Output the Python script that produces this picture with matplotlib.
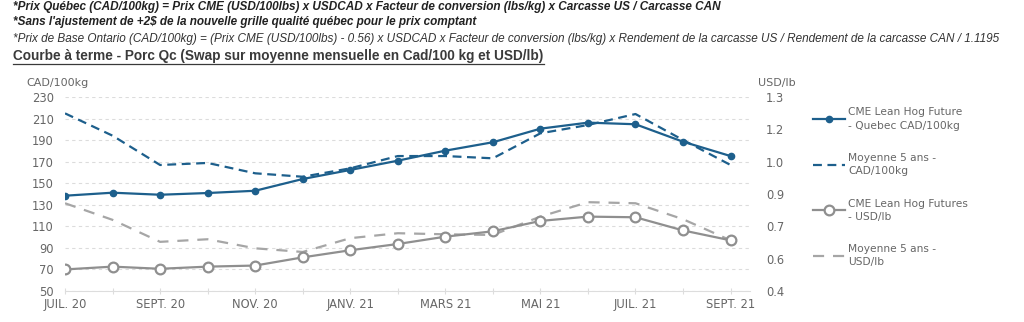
import numpy as np
import matplotlib
matplotlib.use("Agg")
import matplotlib.pyplot as plt
from matplotlib.lines import Line2D

# donnees
mois = ["JUIL. 20", "AOUT 20", "SEPT. 20", "OCT. 20", "NOV. 20", "DÉC. 20", "JANV. 21",
        "FÉVR. 21", "MARS 21", "AVR. 21", "MAI 21", "JUIN 21", "JUIL. 21", "AOÛT 21", "SEPT. 21"]
cme_qc_cad = [138.4, 141.2, 139.3, 140.9, 143.0, 153.9, 162.3, 170.9, 180.2, 188.0,
              200.6, 206.2, 204.7, 188.5, 175.2]
moy5_cad = [214.8, 194.1, 166.9, 168.8, 159.2, 156.0, 163.8, 175.2, 175.2, 173.1,
            196.3, 204.0, 214.2, 190.1, 166.9]
cme_usd = [0.500, 0.513, 0.503, 0.513, 0.518, 0.556, 0.589, 0.618, 0.652, 0.677,
           0.725, 0.745, 0.742, 0.681, 0.635]
moy5_usd = [0.807, 0.730, 0.628, 0.640, 0.598, 0.581, 0.645, 0.668, 0.663, 0.660,
            0.745, 0.812, 0.807, 0.733, 0.635]

ticks_gauche = [50, 70, 90, 110, 130, 150, 170, 190, 210, 230]
ticks_droite = [0.4, 0.55, 0.7, 0.85, 1.0, 1.15, 1.3]
labels_droite = ["0.4", "0.6", "0.7", "0.9", "1.0", "1.2", "1.3"]

bleu = "#1d5f8c"
gris = "#8f8f8f"
txt = "#666666"

fig = plt.figure(figsize=(10.24, 3.22), dpi=100)
ax = fig.add_axes([0.0635, 0.0963, 0.6685, 0.6025])
ax2 = ax.twinx()

x = np.arange(len(mois))

l1, = ax.plot(x, cme_qc_cad, color=bleu, lw=1.6, marker="o", ms=4.5, zorder=5)
l2, = ax.plot(x, moy5_cad, color=bleu, lw=1.6, ls=(0, (4, 2.5)), zorder=4)
l3, = ax2.plot(x, cme_usd, color=gris, lw=1.6, marker="o", ms=7, mfc="white",
               mec=gris, mew=1.6, zorder=5)
l4, = ax2.plot(x, moy5_usd, color="#a6a6a6", lw=1.6, ls=(0, (5, 4)), zorder=4)

ax.set_xlim(0, 14.4)
ax.set_ylim(50, 230)
ax2.set_ylim(0.4, 1.3)
ax.set_yticks(ticks_gauche)
ax2.set_yticks(ticks_droite)
ax2.set_yticklabels(labels_droite)
ax.set_xticks(x)
ax.set_xticklabels([m if i % 2 == 0 else "" for i, m in enumerate(mois)])

ax.grid(axis="y", color="#dcdcdc", ls=(0, (3, 3)), lw=0.8)
for a in (ax, ax2):
    for s in ("top", "left", "right"):
        a.spines[s].set_visible(False)
    a.spines["bottom"].set_color("#dddddd")
ax2.spines["bottom"].set_visible(False)

ax.tick_params(axis="y", length=0, labelsize=8.3, labelcolor=txt, pad=8)
ax2.tick_params(axis="y", length=0, labelsize=8.3, labelcolor=txt, pad=12)
ax.tick_params(axis="x", length=4, direction="inout", color="#dddddd",
               labelsize=8.3, labelcolor=txt, pad=3)

fig.text(0.026, 0.742, "CAD/100kg", fontsize=8, color=txt, va="center")
fig.text(0.740, 0.742, "USD/lb", fontsize=8, color=txt, va="center")

leg = fig.legend([l1, l2, l3, l4],
                 ["CME Lean Hog Future\n- Quebec CAD/100kg", "Moyenne 5 ans -\nCAD/100kg",
                  "CME Lean Hog Futures\n- USD/lb", "Moyenne 5 ans -\nUSD/lb"],
                 loc="upper left", bbox_to_anchor=(0.790, 0.68), frameon=False,
                 fontsize=7.7, labelcolor=txt, handlelength=3.0, handletextpad=0.25,
                 labelspacing=2.1, borderaxespad=0)
for t in leg.get_texts():
    t.set_linespacing(1.4)

# textes d'en-tete
fig.text(0.013, 0.978, "*Prix Québec (CAD/100kg) = Prix CME (USD/100lbs) x USDCAD x Facteur de conversion (lbs/kg) x Carcasse US / Carcasse CAN",
         fontsize=8.5, family="Liberation Sans", weight="bold", style="italic",
         color="#222222", va="center")
fig.text(0.013, 0.933, "*Sans l'ajustement de +2$ de la nouvelle grille qualité québec pour le prix comptant",
         fontsize=8.5, family="Liberation Sans", weight="bold", style="italic",
         color="#222222", va="center")
fig.text(0.013, 0.880, "*Prix de Base Ontario (CAD/100kg) = (Prix CME (USD/100lbs) - 0.56) x USDCAD x Facteur de conversion (lbs/kg) x Rendement de la carcasse US / Rendement de la carcasse CAN / 1.1195",
         fontsize=8.5, family="Liberation Sans", style="italic",
         color="#333333", va="center")
titre = fig.text(0.013, 0.827, "Courbe à terme - Porc Qc (Swap sur moyenne mensuelle en Cad/100 kg et USD/lb)",
                 fontsize=9.8, family="Liberation Sans", weight="bold",
                 color="#3a3a3a", va="center")

# soulignement du titre
fig.canvas.draw()
bb = titre.get_window_extent().transformed(fig.transFigure.inverted())
fig.add_artist(Line2D([bb.x0, bb.x1], [bb.y0 - 0.004, bb.y0 - 0.004],
                      transform=fig.transFigure, color="#3a3a3a", lw=0.9))

fig.savefig("out.png", dpi=100)
